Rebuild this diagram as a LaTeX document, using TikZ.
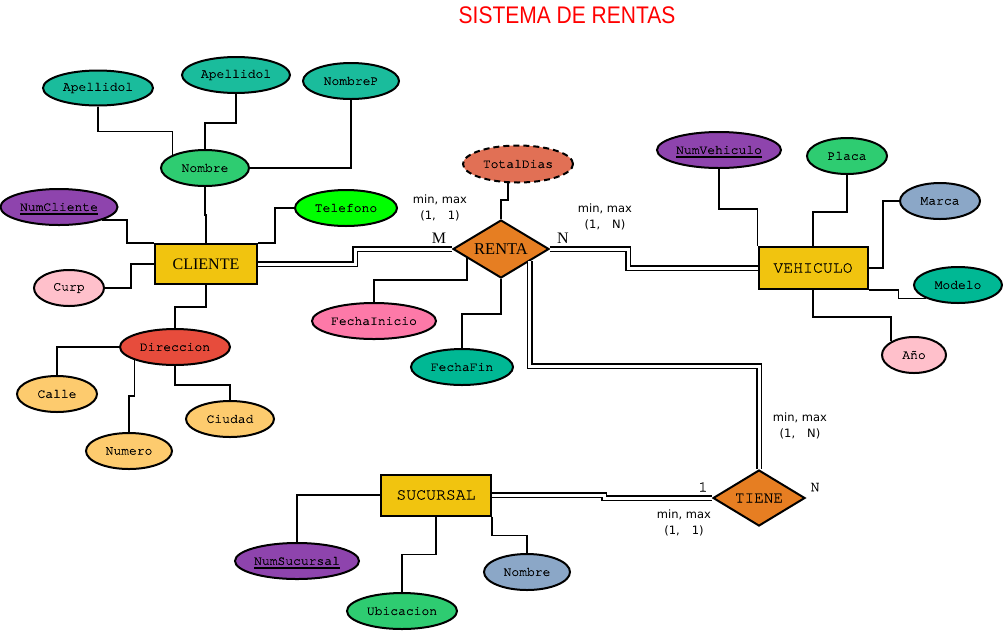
\documentclass[tikz,border=0pt]{standalone}
\usepackage{graphicx}
\usepackage{fontspec}
\setmainfont{Liberation Serif}
\newfontfamily\monof[FakeBold=0.8]{TeX Gyre Cursor}
\newfontfamily\monol[FakeBold=0.3]{TeX Gyre Cursor}
\newfontfamily\sansf{DejaVu Sans}
\newfontfamily\titlef{Liberation Sans}
\usetikzlibrary{shapes.geometric}
\definecolor{cteal}{HTML}{1ABC9C}
\definecolor{cgreen}{HTML}{2ECC71}
\definecolor{cpurple}{HTML}{8E44AD}
\definecolor{clime}{HTML}{00FF00}
\definecolor{cpink}{HTML}{FFC0CB}
\definecolor{cyellow}{HTML}{F1C40F}
\definecolor{cred}{HTML}{E74C3C}
\definecolor{cpeach}{HTML}{FDCB6E}
\definecolor{ccoral}{HTML}{E17055}
\definecolor{corange}{HTML}{E67E22}
\definecolor{crose}{HTML}{FD79A8}
\definecolor{cmint}{HTML}{00B894}
\definecolor{cslate}{HTML}{8BA7C7}
\newcommand\keyul[1]{\setbox0=\hbox{#1}\leavevmode\rlap{\smash{\rule[-4pt]{\wd0}{1.8pt}}}\box0}
\begin{document}
\begin{tikzpicture}[x=1pt,y=-1pt,
  att/.style args={#1/#2/#3}{ellipse, draw, line width=2pt, inner sep=0pt, fill=#3,
    minimum width=#1, minimum height=#2, font=\monof\fontsize{13}{15}\selectfont},
  ent/.style args={#1/#2}{rectangle, draw, line width=2pt, inner sep=0pt, fill=cyellow,
    minimum width=#1, minimum height=#2},
  rel/.style args={#1/#2}{diamond, draw, line width=2pt, inner sep=0pt, fill=corange,
    aspect=1.65, minimum width=#1, minimum height=#2},
  conn/.style={line width=1.8pt},
  dbl/.style={line width=1.5pt, double=white, double distance=3pt},
  lbl/.style={font=\sansf\fontsize{11.5}{16}\selectfont, align=center, inner sep=0pt},
  card/.style={inner sep=0pt}]
\useasboundingbox (0,0) rectangle (1003,630);
\fill[white] (0,0) rectangle (1003,630);

\node[inner sep=0pt, text=red] (title) at (567,15) {\scalebox{0.875}[1]{\titlef\fontsize{24}{28}\selectfont SISTEMA DE RENTAS}};

% CLIENTE
\node[ent=102/40, font=\fontsize{16}{18}\selectfont] (cli) at (206,264) {CLIENTE};
\node[att=110/35/cteal] (apl) at (98,88) {Apellidol};
\node[att=108/36/cteal] (apm) at (236,75) {Apellidol};
\node[att=96/36/cteal] (nomp) at (351,81) {NombreP};
\node[att=88/36/cgreen] (nom) at (205,168) {Nombre};
\node[att=117/36/cpurple] (nc) at (59,207) {\keyul{NumCliente}};
\node[att=102/36/clime] (tel) at (346,208) {Telefono};
\node[att=70/36/cpink] (curp) at (69,288) {Curp};
\node[att=110/36/cred] (dir) at (175,347) {Direccion};
\node[att=80/36/cpeach] (calle) at (57,394) {Calle};
\node[att=88/36/cpeach] (ciu) at (230,419) {Ciudad};
\node[att=86/36/cpeach] (num) at (129,451) {Numero};

% RENTA
\node[rel=96/58, font=\fontsize{16.5}{18}\selectfont] (renta) at (501,249) {RENTA};
\node[att=110/37/ccoral, dash pattern=on 6pt off 4pt] (td) at (518,164) {TotalDias};
\node[att=124/36/crose] (fi) at (374,321) {FechaInicio};
\node[att=102/36/cmint] (ff) at (462,367) {FechaFin};

% VEHICULO
\node[ent=109/42, font=\monol\fontsize{16.5}{18}\selectfont] (veh) at (813,268) {VEHICULO};
\node[att=124/36/cpurple] (nv) at (719,150) {\keyul{NumVehiculo}};
\node[att=80/36/cgreen] (placa) at (847,156) {Placa};
\node[att=80/36/cslate] (marca) at (940,201) {Marca};
\node[att=88/36/cmint] (mod) at (958,285) {Modelo};
\node[att=64/36/cpink] (ano) at (914,355) {Año};

% SUCURSAL / TIENE
\node[ent=110/41, font=\monol\fontsize{16.5}{18}\selectfont] (suc) at (436,495) {SUCURSAL};
\node[rel=92/56, font=\monol\fontsize{16}{18}\selectfont] (tiene) at (759,498) {TIENE};
\node[att=124/36/cpurple] (ns) at (297,561) {\keyul{NumSucursal}};
\node[att=86/36/cslate] (nsuc) at (527,572) {Nombre};
\node[att=110/36/cgreen] (ubi) at (402,611) {Ubicacion};

% connectors CLIENTE
\draw[conn] (apl.south) -- ++(0,25) -| (nom.158);
\draw[conn] (apm.south) -- ++(0,29) -| (nom.north);
\draw[conn] (nomp.south) |- (nom.east);
\draw[conn] (nom.south) -- ++(0,28) -| (cli.north);
\draw[conn] (nc.-17) -- ++(25,0) |- (cli.north west);
\draw[conn] (tel.west) -- ++(-19,0) |- (cli.north east);
\draw[conn] (curp.east) -- ++(26,0) |- (cli.west);
\draw[conn] (cli.south) -- ++(0,22) -| (dir.north);
\draw[conn] (dir.west) -| (calle.north);
\draw[conn] (dir.198) -- ++(0,36) -| (num.north);
\draw[conn] (dir.south) -- ++(0,19) -| (ciu.north);

% connectors RENTA
\draw[conn] (td.243) -- ++(0,17) -| (renta.north);
\draw[conn] (renta.195) -- ++(0,22) -| (fi.north);
\draw[conn] (renta.south) -- ++(0,35) -| (ff.north);
\draw[dbl] (cli.east) -- ++(97,0) |- (renta.west);
\draw[dbl] (renta.east) -- ++(78,0) |- (veh.west);
\draw[dbl] (renta.-23) -- ++(0,105) -| (tiene.north);

% connectors VEHICULO
\draw[conn] (nv.south) -- ++(0,40) -| (veh.north west);
\draw[conn] (placa.south) -- ++(0,37) -| (veh.north);
\draw[conn] (marca.west) -- ++(-16,0) |- (veh.east);
\draw[conn] (veh.south east) -- ++(30,0) |- (mod.203);
\draw[conn] (veh.south) -- ++(0,27) -| (ano.149);

% connectors SUCURSAL
\draw[dbl] (suc.east) -- ++(112,0) |- (tiene.west);
\draw[conn] (suc.west) -| (ns.north);
\draw[conn] (suc.south) -- ++(0,38) -| (ubi.north);
\draw[conn] (suc.south east) -- ++(0,19) -| (nsuc.north);

% labels
\node[lbl] (l1) at (440,208) {min, max\\(1,\hspace{12pt}1)};
\node[lbl] (l2) at (605,217) {min, max\\(1,\hspace{12pt}N)};
\node[lbl] (l3) at (800,426) {min, max\\(1,\hspace{12pt}N)};
\node[lbl] (l4) at (684,523) {min, max\\(1,\hspace{12pt}1)};
\node[card, font=\fontsize{16}{18}\selectfont] (cm) at (439,238) {M};
\node[card, font=\fontsize{16}{18}\selectfont] (cn) at (563,238) {N};
\node[card, font=\monol\fontsize{15}{17}\selectfont] (t1) at (703,487) {1};
\node[card, font=\monol\fontsize{15}{17}\selectfont] (tn) at (815,487) {N};
\end{tikzpicture}
\end{document}
